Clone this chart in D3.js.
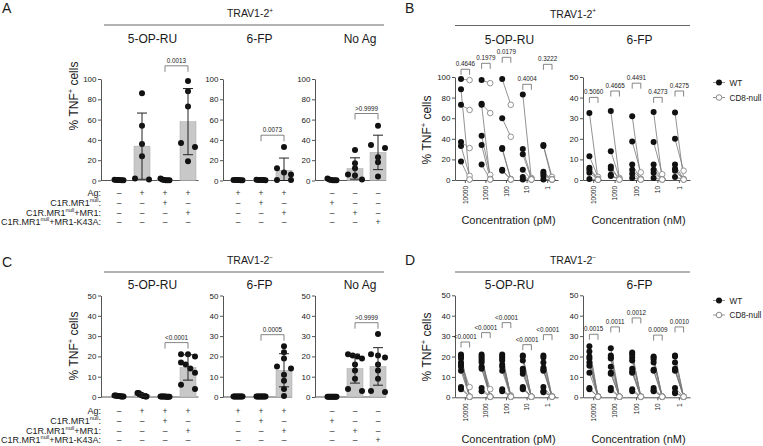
<!DOCTYPE html>
<html><head><meta charset="utf-8">
<script src="https://cdn.jsdelivr.net/npm/d3@7"></script>
<style>
body{margin:0;background:#fff}
svg{display:block}
text{font-family:"Liberation Sans",Arial,Helvetica,sans-serif}
</style>
</head><body>
<svg id="chart" width="763" height="446"></svg>
<script>
// ---------------- DATA ----------------
// Bar panels (A: TRAV1-2+, C: TRAV1-2-), dot values (% TNF+ cells) per group
const A_5OPRU = [[0.5,0.8,0.2,0.3,0.6,0.4],[86,54,36,24,2,1],[2,1,0.5,0.3,0.2,0.2],[98,88,73,37,33,19]];
const A_6FP   = [[0.5,0.6,0.3,0.4,0.5,0.2],[0.8,0.6,0.5,0.4,0.3,0.5],[33,12,8,6,0.5,0.5]];
const A_NoAg  = [[2,1,0.5,0.3,0.2,0.2],[30,17,12,6,5,1],[54,35,32,23,18,4]];
const C_5OPRU = [[0.5,0.3,0.8,0.4,0.2,0.6,0.3,0.5,0.7],[2,2,1.5,1,1,0.5,0.5,0.3,0.2],[0.2,0.1,0.2,0.1,0.2,0.1,0.2,0.1,0.2],[21,21,20,17,16,14,12,6,4]];
const C_6FP   = [[0.3,0.2,0.3,0.2,0.3,0.2,0.3,0.2,0.3],[0.2,0.2,0.2,0.2,0.2,0.2,0.2,0.2,0.2],[25,22,19,15,14,11,8,4,0.5]];
const C_NoAg  = [[0.1,0.1,0.1,0.1,0.1,0.1,0.1,0.1,0.1],[21,20.5,20,19,16,13,9,4,3],[31,21,20.5,19.5,16,13,9,3,2.5]];

const signs5OPRU = [["–","+","+","+"],["–","–","+","–"],["–","–","–","+"],["–","–","–","–"]];
const signs6FP   = [["+","+","+"],["–","+","–"],["–","–","+"],["–","–","–"]];
const signsNoAg  = [["–","–","–"],["+","–","–"],["–","+","–"],["–","–","+"]];
const rowLabels = [
  [{t:"Ag:"}],
  [{t:"C1R.MR1"},{t:"null",sup:true},{t:":"}],
  [{t:"C1R.MR1"},{t:"null",sup:true},{t:"+MR1:"}],
  [{t:"C1R.MR1"},{t:"null",sup:true},{t:"+MR1-K43A:"}]
];
const barTitles = ["5-OP-RU","6-FP","No Ag"];
// significance: [fromGroup, toGroup, label, level(% units)]
const A_pvals = [[2,3,"0.0013",113],[1,2,"0.0073",44.6],[1,2,">0.9999",66]];
const C_pvals = [[2,3,"<0.0001",26.8],[1,2,"0.0005",30.7],[1,2,">0.9999",36.6]];

// Paired panels (B: TRAV1-2+, D: TRAV1-2-)
const concentrations = ["10000","1000","100","10","1"];
const B_5OPRU_WT  = [[98,88,73,37,33,18],[97,74,73,43,34,15],[98,60,31,30,10,9],[83,30,25,10,3,0.5],[34,33,8,6,4,0.5]];
const B_5OPRU_CD8 = [[97,0.5,68,31,4,0.5],[94,65,0.5,5,1,0.5],[73,42,1,0.5,0.5,0.5],[0.5,2,1,0.5,0.5,0.5],[3,0.5,0.5,0.5,0.5,0.5]];
const B_6FP_WT  = [[32.5,11.5,6,5,3.5,0.5],[33.5,14,6.5,5.5,2.5,2],[31,18.7,7.5,5,3,1],[33,18.5,7.5,5,3.5,1],[32.8,20,7.5,5.5,4.5,1.5]];
const B_6FP_CD8 = [[0.3,1.5,0.5,0.2,0.2,0.1],[0.5,1,0.3,0.3,0.2,0.2],[0.5,3.7,0.3,0.5,0.2,0.2],[0.5,2.8,0.3,0.3,0.2,0.2],[0.5,4.5,0.3,0.3,0.2,0.2]];
const D_5OPRU_WT  = [[21,20,19,17,16,15,13,5,4],[21,20,19,18,17,15,14,4.5,3],[21,20,19,18,16,15,13,4,3],[20.5,20,18,14,13,11.5,5,4.5,4],[20.5,19.5,17,14.5,13.5,13,5,3,2.5]];
const D_5OPRU_CD8 = [[0.3,0.3,0.3,5,0.3,0.3,0.3,0.3,0.3],[0.3,0.3,0.3,4,0.3,0.3,0.3,0.3,0.3],[0.3,0.3,1,0.3,0.3,0.3,0.3,0.3,0.3],[0.3,0.3,0.3,0.3,0.3,0.3,0.3,0.3,0.3],[0.3,0.3,0.3,0.3,0.3,0.3,0.3,0.3,0.3]];
const D_6FP_WT  = [[25,22.5,20,19,17,15.5,12,4.5,4],[24,20.5,19.5,19,15,12,11.5,4.5,3.5],[22,21,19.5,18,14,12.5,12,4,3],[20,19.5,18.5,17,13.5,13,4.5,3.5,3],[20.5,20,17,14,13.5,13,4.5,2.5,2]];
const D_6FP_CD8 = [[0.3,0.3,0.3,0.3,0.3,0.3,0.3,0.3,0.3],[0.3,0.3,0.3,0.3,0.3,0.3,0.3,0.3,0.3],[0.3,0.3,0.3,0.3,0.3,0.3,0.3,0.3,0.3],[0.3,0.3,0.3,0.3,0.3,0.3,0.3,0.3,0.3],[0.3,0.3,0.3,0.3,0.3,0.3,0.3,0.3,0.3]];
const B_5OPRU_p = ["0.4646","0.1979","0.0179","0.4004","0.3222"];
const B_5OPRU_pLevel = [107.5,113.3,119.1,92.9,112.3];
const B_6FP_p = ["0.5060","0.4665","0.4491","0.4273","0.4275"];
const B_6FP_pLevel = [40.1,43.2,47,40.1,43.2];
const D_5OPRU_p = ["<0.0001","<0.0001","<0.0001","<0.0001","<0.0001"];
const D_5OPRU_pLevel = [27.1,31.7,36.6,25.8,30.7];
const D_6FP_p = ["0.0015","0.0011","0.0012","0.0009","0.0010"];
const D_6FP_pLevel = [30.9,34.5,38.9,30.5,34.5];
const legendItems = [{label:"WT",open:false},{label:"CD8-null",open:true}];

// ---------------- DRAWING ----------------
const svg = d3.select("#chart");
const AX = "#555";
const TXT = "#1a1a1a";

function rich(g, parts, x, y, size, anchor, extra){
  const t = g.append("text").attr("x",x).attr("y",y).attr("font-size",size)
    .attr("text-anchor",anchor||"start").style("fill",TXT);
  if (extra) extra(t);
  let shifted = false;
  parts.forEach(p=>{
    const ts = t.append("tspan").text(p.t);
    if (p.sup){ ts.attr("font-size", size*0.62).attr("dy", -size*0.42); shifted = true; }
    else if (shifted){ ts.attr("dy", size*0.42); shifted = false; }
  });
  return t;
}

function styleAxis(sel){
  sel.selectAll("path,line").attr("stroke",AX).attr("stroke-width",1);
  sel.selectAll("text").attr("font-size",8).style("fill",TXT);
}

function swarm(values, y){
  const idx = values.map((v,i)=>i).sort((a,b)=>values[b]-values[a]);
  const offs = values.map(()=>0);
  let cl = [idx[0]];
  const flush = ()=>{ const k=cl.length; if(k>1){ const h = k>=5?4.5:7; cl.forEach((id,j)=>offs[id] = -h + 2*h*j/(k-1)); } };
  for(let j=1;j<idx.length;j++){
    if (Math.abs(y(values[idx[j]]) - y(values[cl[cl.length-1]])) < 5) cl.push(idx[j]);
    else { flush(); cl=[idx[j]]; }
  }
  flush();
  return offs;
}

const barLayout = [
  {x0:101, c0:119, n:4, titleX:152.5, end:198.5},
  {x0:223, c0:238, n:3, titleX:259.5, end:292},
  {x0:315, c0:332, n:3, titleX:360, end:386}
];
const STEP = 23;

function barPanel(cfg){
  const g = svg.append("g");
  cfg.data.forEach((groups, si)=>{
    const L = barLayout[si];
    const y = d3.scaleLinear().domain([0,cfg.yMax]).range([cfg.yBottom,cfg.yTop]);
    const x = d3.scalePoint().domain(d3.range(L.n)).range([L.c0-STEP/2, L.c0-STEP/2+L.n*STEP]).padding(0.5);
    const ax = g.append("g").attr("transform",`translate(${L.x0},0)`)
      .call(d3.axisLeft(y).tickValues(cfg.ticks).tickSize(3).tickSizeOuter(0).tickPadding(1.5));
    styleAxis(ax);
    g.append("line").attr("x1",L.x0).attr("x2",L.end).attr("y1",cfg.yBottom).attr("y2",cfg.yBottom).attr("stroke",AX);
    const stats = groups.map(v=>({m:d3.mean(v), s:d3.deviation(v)}));
    g.selectAll(null).data(stats).join("rect")
      .attr("x",(d,i)=>x(i)-8).attr("width",16)
      .attr("y",d=>y(d.m)).attr("height",d=>cfg.yBottom-y(d.m))
      .attr("fill","#c8c8c8").attr("stroke","#a8a8a8").attr("stroke-width",0.5);
    groups.forEach((vals,i)=>{
      const offs = swarm(vals,y);
      g.selectAll(null).data(vals).join("circle")
        .attr("cx",(d,j)=>x(i)+offs[j]).attr("cy",d=>y(d)).attr("r",3).attr("fill","#111");
    });
    stats.forEach((d,i)=>{
      if (d.m < 1) return;
      const top = y(d.m+d.s), bot = y(Math.max(0,d.m-d.s)), cx = x(i);
      g.append("line").attr("x1",cx).attr("x2",cx).attr("y1",top).attr("y2",bot).attr("stroke","#222").attr("stroke-width",1);
      [top,bot].forEach(yy=>g.append("line").attr("x1",cx-5).attr("x2",cx+5).attr("y1",yy).attr("y2",yy).attr("stroke","#222").attr("stroke-width",1));
    });
    const p = cfg.pvals[si];
    const xa = x(p[0]), xb = x(p[1]), yb = y(p[3]);
    g.append("path").attr("d",`M${xa},${yb+6}V${yb}H${xb}V${yb+6}`).attr("fill","none").attr("stroke","#666").attr("stroke-width",0.8);
    g.append("text").attr("x",(xa+xb)/2).attr("y",yb-3).attr("text-anchor","middle").attr("font-size",6.3).style("fill",TXT).text(p[2]);
    g.append("text").attr("x",L.titleX).attr("y",cfg.titleY).attr("text-anchor","middle").attr("font-size",12).style("fill",TXT).text(barTitles[si]);
    cfg.signs[si].forEach((row,r)=>{
      row.forEach((s,i)=>{
        g.append("text").attr("x",x(i)).attr("y",cfg.rowY[r]).attr("text-anchor","middle")
          .attr("font-size",8.5).style("fill","#333").text(s);
      });
    });
  });
  rowLabels.forEach((parts,r)=>rich(g, parts, 101, cfg.rowY[r], 9, "end"));
  rich(g, [{t:"% TNF"},{t:"+",sup:true},{t:" cells"}], 0, 0, 12, "middle",
       t=>t.attr("transform",`translate(78,${cfg.yLabelY}) rotate(-90)`));
  g.append("line").attr("x1",104).attr("x2",384).attr("y1",cfg.headerY).attr("y2",cfg.headerY).attr("stroke","#666");
  rich(g, [{t:"TRAV1-2"},{t:cfg.headerSup,sup:true}], 250, cfg.headerY-8, 10.5, "middle");
  g.append("text").attr("x",2).attr("y",cfg.letterY).attr("font-size",14).style("fill",TXT).text(cfg.letter);
}

function pairedPanel(cfg){
  const g = svg.append("g");
  cfg.plots.forEach(P=>{
    const y = d3.scaleLinear().domain([0,P.yMax]).range([cfg.yBottom,cfg.yTop]);
    const x = d3.scaleBand().domain(concentrations).range([P.x0,P.x0+P.w]);
    const cx = c=>x(c)+x.bandwidth()/2;
    const OFF = 4.3;
    const ay = g.append("g").attr("transform",`translate(${P.x0},0)`)
      .call(d3.axisLeft(y).tickValues(P.ticks).tickSize(3).tickSizeOuter(0).tickPadding(1.5));
    styleAxis(ay);
    const axx = g.append("g").attr("transform",`translate(0,${cfg.yBottom})`)
      .call(d3.axisBottom(x).tickSize(3).tickSizeOuter(0));
    styleAxis(axx);
    axx.selectAll("text").attr("font-size",6.5).attr("transform","rotate(-90)")
      .attr("text-anchor","end").attr("x",-6).attr("y",0).attr("dy","0.35em");
    concentrations.forEach((c,ci)=>{
      const wt = P.wt[ci], cd = P.cd8[ci];
      wt.forEach((v,d)=>{
        g.append("line").attr("x1",cx(c)-OFF).attr("y1",y(v)).attr("x2",cx(c)+OFF).attr("y2",y(cd[d]))
          .attr("stroke","#777").attr("stroke-width",0.8);
      });
      g.selectAll(null).data(cd).join("circle").attr("cx",cx(c)+OFF).attr("cy",d=>y(d)).attr("r",2.8)
        .attr("fill","#fff").attr("stroke","#888").attr("stroke-width",0.9);
      g.selectAll(null).data(wt).join("circle").attr("cx",cx(c)-OFF).attr("cy",d=>y(d)).attr("r",3).attr("fill","#111");
      const yb = y(P.pLevel[ci]);
      g.append("path").attr("d",`M${cx(c)-OFF},${yb+5.5}V${yb}H${cx(c)+OFF}V${yb+5.5}`)
        .attr("fill","none").attr("stroke","#666").attr("stroke-width",0.8);
      g.append("text").attr("x",cx(c)).attr("y",yb-3).attr("text-anchor","middle").attr("font-size",6.3).style("fill",TXT).text(P.p[ci]);
    });
    g.append("text").attr("x",P.x0+P.w/2+3).attr("y",cfg.titleY).attr("text-anchor","middle").attr("font-size",12).style("fill",TXT).text(P.title);
    g.append("text").attr("x",P.x0+P.w/2+2).attr("y",cfg.concY).attr("text-anchor","middle").attr("font-size",11).style("fill",TXT).text(P.xTitle);
  });
  rich(g, [{t:"% TNF"},{t:"+",sup:true},{t:" cells"}], 0, 0, 12, "middle",
       t=>t.attr("transform",`translate(431,${cfg.yLabelY}) rotate(-90)`));
  g.append("line").attr("x1",455).attr("x2",690).attr("y1",cfg.headerY).attr("y2",cfg.headerY).attr("stroke","#666");
  rich(g, [{t:"TRAV1-2"},{t:cfg.headerSup,sup:true}], 573, cfg.headerY-8, 10.5, "middle");
  g.append("text").attr("x",405).attr("y",cfg.letterY).attr("font-size",14).style("fill",TXT).text(cfg.letter);
  legendItems.forEach((it,i)=>{
    const ly = cfg.legendY[i];
    g.append("line").attr("x1",713).attr("x2",725).attr("y1",ly).attr("y2",ly).attr("stroke","#777").attr("stroke-width",0.8);
    g.append("circle").attr("cx",719).attr("cy",ly).attr("r",it.open?2.8:3)
      .attr("fill",it.open?"#fff":"#111").attr("stroke",it.open?"#888":"none");
    g.append("text").attr("x",729.5).attr("y",ly+3).attr("font-size",8.2).style("fill",TXT).text(it.label);
  });
}

barPanel({letter:"A", letterY:13, headerY:25, headerSup:"+", titleY:43, yTop:79, yBottom:180.5, yMax:100,
  ticks:[0,20,40,60,80,100], data:[A_5OPRU,A_6FP,A_NoAg], pvals:A_pvals, signs:[signs5OPRU,signs6FP,signsNoAg],
  rowY:[196,205.5,215.5,225], yLabelY:96});
barPanel({letter:"C", letterY:267, headerY:272, headerSup:"−", titleY:289, yTop:295.5, yBottom:397, yMax:50,
  ticks:[0,10,20,30,40,50], data:[C_5OPRU,C_6FP,C_NoAg], pvals:C_pvals, signs:[signs5OPRU,signs6FP,signsNoAg],
  rowY:[414,423.5,433.5,443], yLabelY:346});

pairedPanel({letter:"B", letterY:13, headerY:25.5, headerSup:"+", titleY:44, concY:224, yTop:77, yBottom:180,
  yLabelY:130, legendY:[82.5,97.5],
  plots:[
    {x0:455,w:103,yMax:100,ticks:[0,20,40,60,80,100],wt:B_5OPRU_WT,cd8:B_5OPRU_CD8,p:B_5OPRU_p,pLevel:B_5OPRU_pLevel,title:"5-OP-RU",xTitle:"Concentration (pM)"},
    {x0:583,w:107,yMax:50,ticks:[0,10,20,30,40,50],wt:B_6FP_WT,cd8:B_6FP_CD8,p:B_6FP_p,pLevel:B_6FP_pLevel,title:"6-FP",xTitle:"Concentration (nM)"}
  ]});
pairedPanel({letter:"D", letterY:265, headerY:272, headerSup:"−", titleY:289, concY:443, yTop:295.3, yBottom:397.3,
  yLabelY:347, legendY:[300.5,315],
  plots:[
    {x0:455,w:103,yMax:50,ticks:[0,10,20,30,40,50],wt:D_5OPRU_WT,cd8:D_5OPRU_CD8,p:D_5OPRU_p,pLevel:D_5OPRU_pLevel,title:"5-OP-RU",xTitle:"Concentration (pM)"},
    {x0:583,w:107,yMax:50,ticks:[0,10,20,30,40,50],wt:D_6FP_WT,cd8:D_6FP_CD8,p:D_6FP_p,pLevel:D_6FP_pLevel,title:"6-FP",xTitle:"Concentration (nM)"}
  ]});
</script>
</body></html>
